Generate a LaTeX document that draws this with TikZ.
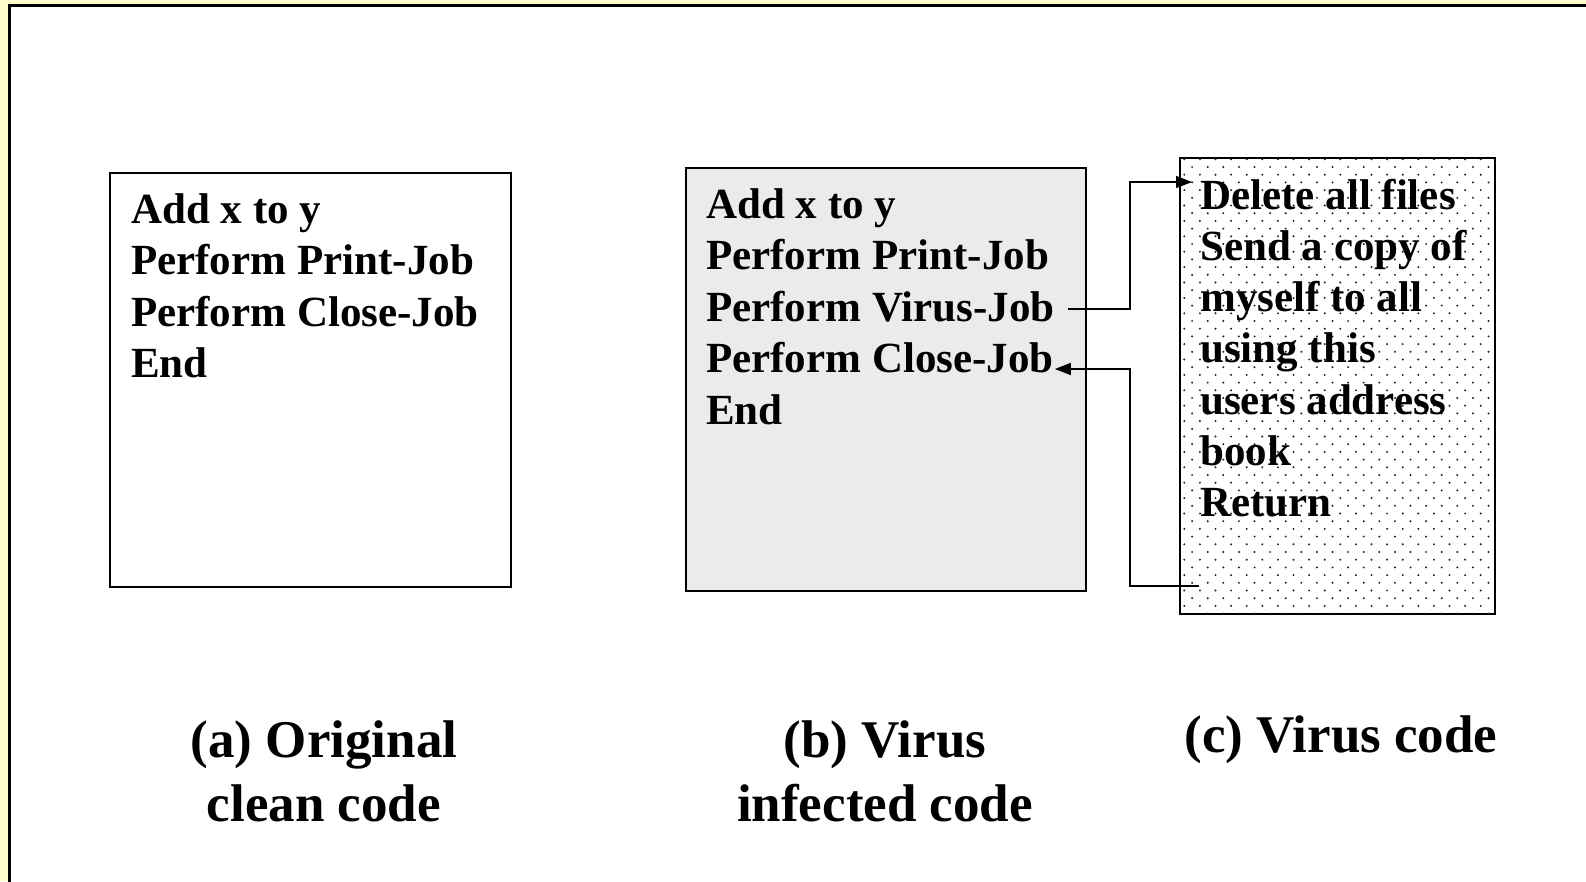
\documentclass[tikz,border=0pt]{standalone}
\usepackage{fontspec}
\setmainfont{Liberation Serif}
\usetikzlibrary{arrows.meta,positioning}

\definecolor{slidebg}{HTML}{FFFFCC}
\definecolor{infectfill}{HTML}{EBEBEB}
\definecolor{dotgray}{HTML}{202020}

\tikzset{
  codebox/.style={draw, line width=1.6pt, anchor=north west, inner sep=0pt},
  codeline/.style={anchor=base west, inner sep=0pt,
    font=\fontsize{43}{51.5}\selectfont\bfseries},
  caption/.style={anchor=base, align=center, inner sep=0pt,
    font=\fontsize{53}{64}\selectfont\bfseries},
  jump/.style={line width=1.6pt, -{Triangle[length=16pt,width=12pt]}},
}

\begin{document}
\begin{tikzpicture}[x=1pt,y=-1pt]

          \useasboundingbox (0,0) rectangle (1586,881);
          \fill[slidebg] (0,0) rectangle (1586,881);
          \draw[line width=2.5pt,fill=white] (9.5,5.5) rectangle (1600,900);

          % (a) original code
          \node[codebox,minimum width=401pt,minimum height=414pt] (boxa) at (109,172) {};
          \node[codeline] (aadd)   at (131,223)   {Add x to y};
          \node[codeline] (aprint) at (131,274.5) {Perform Print-Job};
          \node[codeline] (aclose) at (131,326)   {Perform Close-Job};
          \node[codeline] (aend)   at (131,377.5) {End};

          % (b) infected code
          \node[codebox,fill=infectfill,minimum width=400pt,minimum height=423pt] (boxb) at (685,167) {};
          \node[codeline] (badd)   at (706,218)   {Add x to y};
          \node[codeline] (bprint) at (706,269.5) {Perform Print-Job};
          \node[codeline] (bvirus) at (706,321)   {Perform Virus-Job};
          \node[codeline] (bclose) at (706,372.5) {Perform Close-Job};
          \node[codeline] (bend)   at (706,424)   {End};

          % (c) virus code, dotted fill
          \node[codebox,fill=white,minimum width=315pt,minimum height=456pt] (boxc) at (1179,157) {};
          \begin{scope}
            \clip ([shift={(1.5pt,-1.5pt)}]boxc.north west) rectangle ([shift={(-1.5pt,1.5pt)}]boxc.south east);
            \foreach \r in {0,...,59} {
              \pgfmathsetmacro\xo{mod(\r,2)*7.8}
              \foreach \c in {0,...,20}
                \fill[dotgray] (1184.3+\xo+15.6*\c,159.3+7.7*\r) circle[radius=1.1pt];
            }
          \end{scope}
          \node[codeline] (cdelete) at (1200,209)   {Delete all files};
          \node[codeline] (csend)   at (1200,260.3) {Send a copy of};
          \node[codeline] (cmyself) at (1200,311.6) {myself to all};
          \node[codeline] (cusing)  at (1200,362.9) {using this};
          \node[codeline] (cusers)  at (1200,414.2) {users address};
          \node[codeline] (cbook)   at (1200,465.5) {book};
          \node[codeline] (creturn) at (1200,516.8) {Return};

          % jump to the virus and back
          \coordinate (bendx) at ([xshift=-49pt]boxc.west);
          \coordinate (vout) at ([xshift=13pt,yshift=12pt]bvirus.base east);
          \coordinate (vin)  at ([xshift=-8pt,yshift=27pt]cdelete.base west);
          \coordinate (rout) at ([xshift=-1pt,yshift=-69pt]creturn.base west);
          \coordinate (rin)  at ([xshift=1pt,yshift=3.5pt]bclose.base east);
          \draw[jump] (vout) -- (vout -| bendx) |- (vin);
          \draw[jump] (rout) -- (rout -| bendx) |- (rin);

          \node[caption] (capa) at (324,821) {(a) Original\\clean code};
          \node[caption] (capb) at (885,821) {(b) Virus\\infected code};
          \node[caption] (capc) at (1341,752) {(c) Virus code};
      \end{tikzpicture}
\end{document}
